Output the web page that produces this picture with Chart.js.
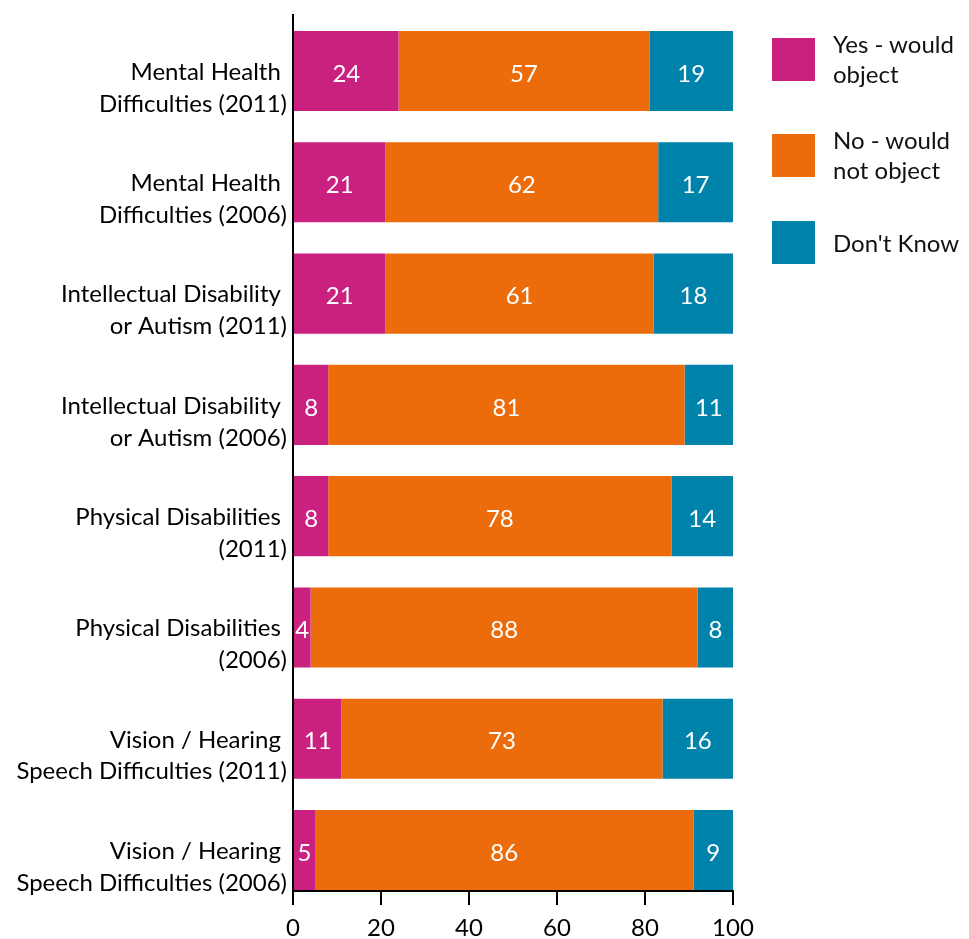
<!DOCTYPE html>
<html><head><meta charset="utf-8">
<script src="https://cdn.jsdelivr.net/npm/chart.js@4/dist/chart.umd.min.js"></script>
<style>
html,body{margin:0;padding:0;background:#fff;}
#wrap{position:relative;width:969px;height:939px;overflow:hidden;}
#legend{position:absolute;left:772px;top:29px;display:flex;flex-direction:column;gap:36px;font-family:Lato,sans-serif;font-size:24px;color:#111;}
.item{display:flex;align-items:center;}
.box{width:43px;height:43px;flex:none;margin-right:18px;}
.txt{line-height:30px;white-space:pre-line;}
</style></head><body>
<div id="wrap"><canvas id="c" width="969" height="939"></canvas><div id="legend"></div></div>
<script>
const categories = [
  ["Mental Health ", "Difficulties (2011)"],
  ["Mental Health ", "Difficulties (2006)"],
  ["Intellectual Disability ", "or Autism (2011)"],
  ["Intellectual Disability ", "or Autism (2006)"],
  ["Physical Disabilities ", "(2011)"],
  ["Physical Disabilities ", "(2006)"],
  ["Vision / Hearing ", "Speech Difficulties (2011)"],
  ["Vision / Hearing ", "Speech Difficulties (2006)"]
];
const yesValues = [24, 21, 21, 8, 8, 4, 11, 5];
const noValues = [57, 62, 61, 81, 78, 88, 73, 86];
const dontKnowValues = [19, 17, 18, 11, 14, 8, 16, 9];
const seriesNames = ["Yes - would\nobject", "No - would\nnot object", "Don't Know"];
const seriesColors = ["#CA2181", "#EC6C0B", "#0083AB"];
const xTicks = [0, 20, 40, 60, 80, 100];

const seriesValues = [yesValues, noValues, dontKnowValues];
const FONT = "Lato";

const valueLabels = {
  id: 'valueLabels',
  afterDatasetsDraw(chart) {
    const ctx = chart.ctx;
    ctx.save();
    ctx.fillStyle = '#fff';
    ctx.font = '24px ' + FONT;
    ctx.textAlign = 'center';
    ctx.textBaseline = 'middle';
    chart.data.datasets.forEach((ds, di) => {
      chart.getDatasetMeta(di).data.forEach((bar, i) => {
        const p = bar.getProps(['x', 'y', 'base'], true);
        ctx.fillText(String(ds.data[i].x), (p.x + p.base) / 2, p.y + 3);
      });
    });
    ctx.restore();
  }
};

const chart = new Chart(document.getElementById('c'), {
  type: 'bar',
  data: {
    datasets: seriesValues.map((vals, si) => ({
      label: seriesNames[si],
      data: vals.map((v, i) => ({ x: v, y: i })),
      backgroundColor: seriesColors[si],
      borderWidth: 0,
      barPercentage: 0.72,
      categoryPercentage: 1
    }))
  },
  options: {
    indexAxis: 'y',
    responsive: false,
    animation: false,
    devicePixelRatio: 1,
    layout: { padding: { top: 15, right: 236, left: 0, bottom: 0 } },
    plugins: { legend: { display: false }, tooltip: { enabled: false } },
    scales: {
      x: {
        type: 'linear', stacked: true, min: 0, max: 100,
        afterBuildTicks: s => { s.ticks = xTicks.map(v => ({ value: v })); },
        grid: { drawOnChartArea: false, drawTicks: true, tickLength: 14, color: '#000', lineWidth: 2 },
        border: { display: true, color: '#000', width: 2 },
        ticks: { color: '#000', font: { family: FONT, size: 24 }, padding: 9, maxRotation: 0, autoSkip: false },
        afterFit: s => { s.height = 48; }
      },
      y: {
        type: 'linear', reverse: true, stacked: true, offset: false, min: -0.503, max: 7.368,
        afterBuildTicks: s => { s.ticks = categories.map((c, i) => ({ value: i })); },
        grid: { display: true, offset: false, drawOnChartArea: false, drawTicks: false },
        border: { display: true, color: '#000', width: 2 },
        ticks: {
          color: '#000', font: { family: FONT, size: 24, lineHeight: 1.33 }, padding: 6,
          labelOffset: 17, autoSkip: false,
          callback: v => categories[Math.round(v)]
        },
        afterFit: s => { s.width = 293; s.paddingTop = 0; s.paddingBottom = 0; }
      }
    }
  },
  plugins: [valueLabels]
});

const legend = document.getElementById('legend');
chart.data.datasets.forEach(ds => {
  const item = document.createElement('div');
  item.className = 'item';
  const box = document.createElement('div');
  box.className = 'box';
  box.style.background = ds.backgroundColor;
  const txt = document.createElement('div');
  txt.className = 'txt';
  txt.textContent = ds.label;
  item.appendChild(box);
  item.appendChild(txt);
  legend.appendChild(item);
});
</script>
</body></html>
